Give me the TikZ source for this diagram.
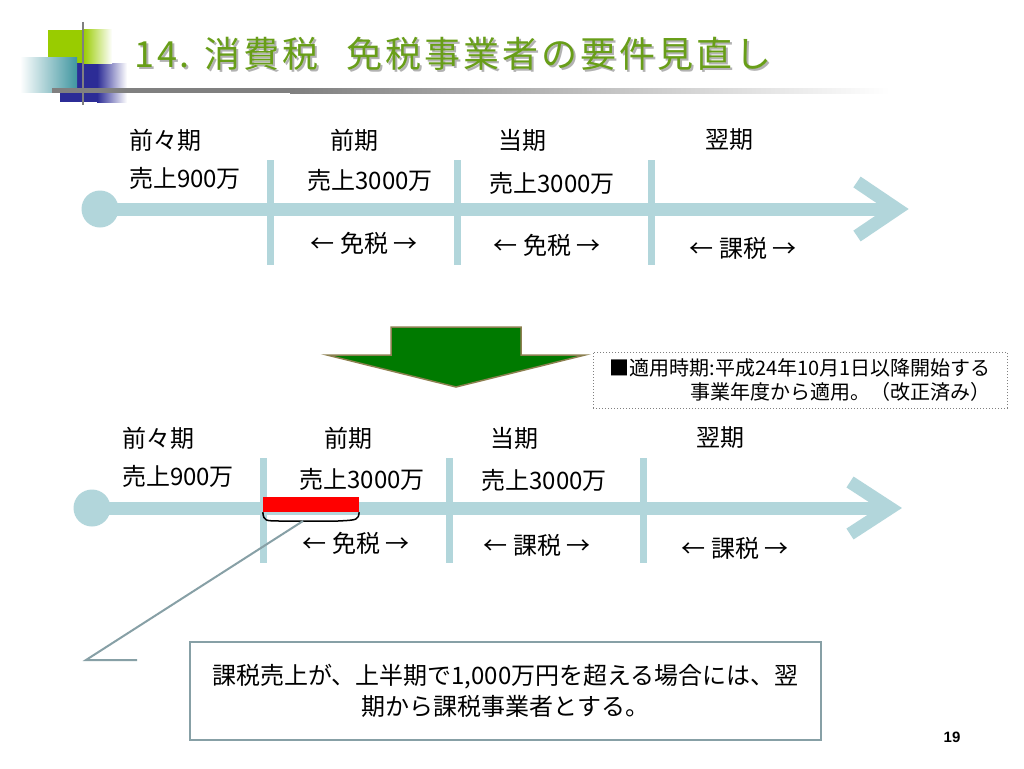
\documentclass[tikz,border=0pt]{standalone}
\usepackage{fontspec}
\setmainfont{Noto Sans CJK JP}
\newfontfamily\pagefont{Liberation Sans}
\usepackage{tikz}
\definecolor{axisblue}{RGB}{178,214,219}
\definecolor{titlegreen}{RGB}{104,158,24}
\definecolor{limegreen}{RGB}{153,204,0}
\definecolor{decoteal}{RGB}{64,150,160}
\definecolor{decoblue}{RGB}{44,44,150}
\definecolor{arrowgreen}{RGB}{0,122,0}
\definecolor{arrowrim}{RGB}{140,128,80}
\definecolor{boxrim}{RGB}{135,160,166}

\begin{document}
\begin{tikzpicture}[
  x=1pt, y=-1pt,
  axis/.style={draw=axisblue, line width=13pt},
  sep/.style={draw=axisblue, line width=7pt},
  dot/.style={circle, fill=axisblue, minimum size=37pt, inner sep=0pt},
  txt/.style={font=\fontsize{24}{28}\selectfont, inner sep=0pt},
  titletext/.style={font=\fontsize{36}{40}\selectfont\addfontfeature{LetterSpace=8}, anchor=west, inner sep=0pt},
  notebox/.style={draw=gray, dotted, line width=1pt, minimum width=414pt, minimum height=56pt, align=right, font=\fontsize{20}{24}\selectfont},
  rulebox/.style={draw=boxrim, line width=2pt, minimum width=631pt, minimum height=98pt, align=center, font=\fontsize{24}{31}\selectfont},
  callout/.style={draw=boxrim, line width=2pt}
]
  \useasboundingbox[fill=white] (0,0) rectangle (1024,768);

  % title decoration
  \fill[decoblue] (60,63) rectangle (97,102);
  \shade[left color=decoblue, right color=white] (97,63) rectangle (127,102);
  \fill[limegreen] (48,30) rectangle (83,63);
  \shade[left color=limegreen, right color=white] (83,30) rectangle (112,63);
  \shade[left color=white, right color=decoteal] (20,58) rectangle (77,92);
  \fill[gray] (52,88) rectangle (290,93);
  \shade[left color=gray, right color=white] (290,88) rectangle (890,93);
  \draw[gray, line width=2.5pt] (83,22) -- (83,105);
  \node[titletext, text=gray!60] (titleshadow) at (136,56) {14.\hspace{0.4em}消費税\hspace{0.8em}免税事業者の要件見直し};
  \node[titletext, text=titlegreen] (title) at (134,54) {14.\hspace{0.4em}消費税\hspace{0.8em}免税事業者の要件見直し};

  % before
  \node[dot] (start1) at (100,209) {};
  \coordinate (tip1) at (897,209);
  \coordinate (arm1a) at (857,182);
  \coordinate (arm1b) at (857,236);
  \draw[axis] (start1.center) -- (tip1);
  \draw[axis, line join=miter] (arm1a) -- (tip1) -- (arm1b);
  \draw[sep] (270,160) -- (270,265);
  \draw[sep] (457,160) -- (457,265);
  \draw[sep] (651,160) -- (651,265);

  \node[txt] (pp1) at (165,140) {前々期};
  \node[txt] (prev1) at (354,140) {前期};
  \node[txt] (cur1) at (522,140) {当期};
  \node[txt] (next1) at (729,140) {翌期};
  \node[txt] (salespp1) at (185,178) {売上900万};
  \node[txt] (salesprev1) at (370,180) {売上3000万};
  \node[txt] (salescur1) at (552,183) {売上3000万};
  \node[txt] (taxprev1) at (364,243) {← 免税 →};
  \node[txt] (taxcur1) at (547,245) {← 免税 →};
  \node[txt] (taxnext1) at (743,248) {← 課税 →};

  % down arrow and note
  \draw[fill=arrowgreen, draw=arrowrim, line width=1.5pt] (391,327) -- (521,327) -- (521,355) -- (585,355)
    -- (456,387) -- (327,355) -- (391,355) -- cycle;
  \node[notebox] (note) at (800,380) {■適用時期:平成24年10月1日以降開始する\\事業年度から適用。（改正済み）};

  % after
  \node[dot] (start2) at (92,508) {};
  \coordinate (tip2) at (890,508);
  \coordinate (arm2a) at (850,482);
  \coordinate (arm2b) at (850,534);
  \draw[axis] (start2.center) -- (tip2);
  \draw[axis, line join=miter] (arm2a) -- (tip2) -- (arm2b);
  \draw[sep] (263,458) -- (263,563);
  \draw[sep] (449,458) -- (449,563);
  \draw[sep] (643,458) -- (643,563);

  \node[txt] (pp2) at (158,438) {前々期};
  \node[txt] (prev2) at (348,438) {前期};
  \node[txt] (cur2) at (514,438) {当期};
  \node[txt] (next2) at (720,438) {翌期};
  \node[txt] (salespp2) at (178,476) {売上900万};
  \node[txt] (salesprev2) at (362,479) {売上3000万};
  \node[txt] (salescur2) at (544,480) {売上3000万};
  \node[txt] (taxprev2) at (356,543) {← 免税 →};
  \node[txt] (taxcur2) at (537,545) {← 課税 →};
  \node[txt] (taxnext2) at (735,548) {← 課税 →};

  \node[fill=red, minimum width=96pt, minimum height=15pt, inner sep=0pt] (firsthalf) at (311,504.5) {};
  \draw[line width=1.5pt] (firsthalf.south west) .. controls (264,521) .. (283,521) -- (338,521)
    .. controls (358,520) .. (firsthalf.south east);
  \coordinate (bracetip) at (303,521);
  \coordinate (elbow) at (86,660);
  \coordinate (elbowend) at (137,660);
  \draw[callout] (bracetip) -- (elbow) -- (elbowend);

  \node[rulebox] (rule) at (505.5,691) {課税売上が、上半期で1,000万円を超える場合には、翌\\期から課税事業者とする。};
  \node[font=\pagefont\bfseries\fontsize{15}{18}\selectfont] (pagenum) at (952,737) {19};
\end{tikzpicture}
\end{document}
